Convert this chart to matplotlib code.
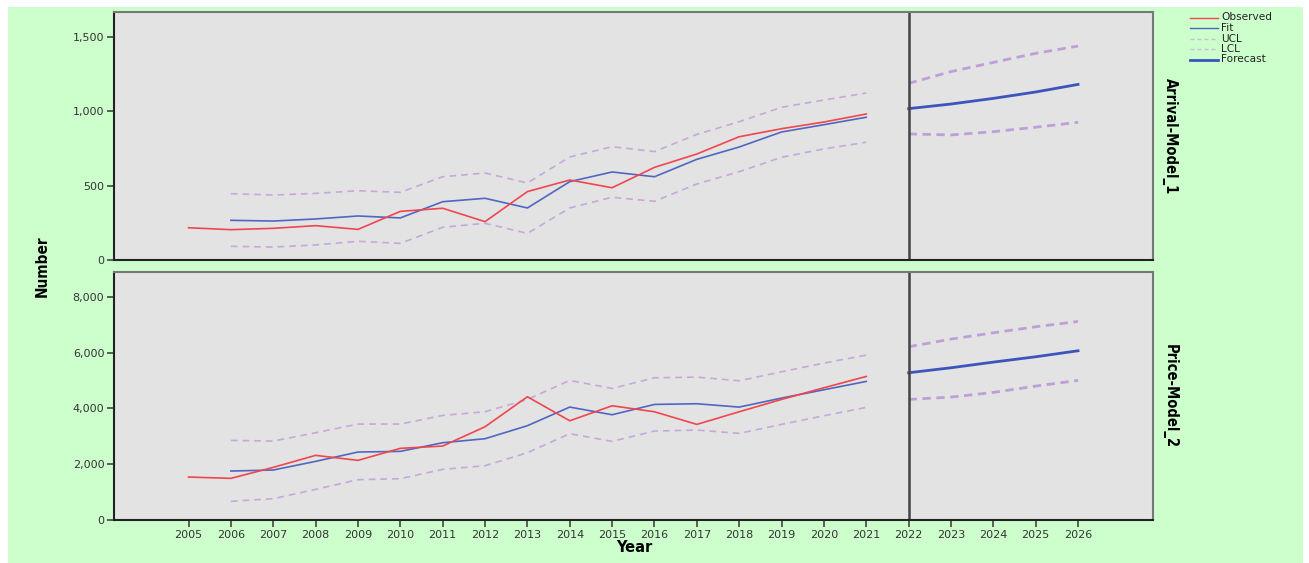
import matplotlib
matplotlib.use("Agg")
import matplotlib.pyplot as plt
from matplotlib.patches import Rectangle
from matplotlib.lines import Line2D
from matplotlib.ticker import FuncFormatter

years_obs = list(range(2005, 2022))
years_fit = list(range(2006, 2022))
years_fc = list(range(2022, 2027))

arr_obs = [217, 204, 213, 231, 206, 327, 348, 258, 460, 538, 486, 623, 713, 829, 883, 928, 982]
arr_fit = [267, 262, 276, 296, 283, 392, 415, 350, 527, 592, 560, 677, 760, 861, 910, 960]
arr_ucl = [446, 437, 448, 466, 455, 560, 585, 518, 693, 762, 729, 845, 930, 1027, 1076, 1123]
arr_lcl = [92, 87, 101, 126, 112, 220, 247, 179, 350, 422, 395, 511, 594, 691, 747, 792]
arr_fc = [1018, 1049, 1087, 1130, 1181]
arr_fc_ucl = [1188, 1267, 1329, 1390, 1439]
arr_fc_lcl = [848, 841, 863, 893, 926]

pr_obs = [1540, 1493, 1887, 2317, 2138, 2568, 2651, 3343, 4418, 3557, 4095, 3880, 3427, 3880, 4322, 4740, 5146]
pr_fit = [1755, 1791, 2102, 2436, 2460, 2770, 2914, 3380, 4048, 3773, 4143, 4167, 4048, 4370, 4669, 4967]
pr_ucl = [2853, 2830, 3128, 3439, 3439, 3749, 3880, 4322, 5003, 4716, 5098, 5122, 4991, 5313, 5624, 5910]
pr_lcl = [669, 764, 1098, 1445, 1481, 1815, 1946, 2412, 3093, 2818, 3188, 3224, 3105, 3427, 3737, 4036]
pr_fc = [5278, 5457, 5660, 5851, 6066]
pr_fc_ucl = [6209, 6484, 6711, 6926, 7117]
pr_fc_lcl = [4322, 4405, 4573, 4800, 5003]

x_ticks = list(range(2005, 2027))
top_ticks = [0, 500, 1000, 1500]
bot_ticks = [0, 2000, 4000, 6000, 8000]
panel_labels = ["Arrival-Model_1", "Price-Model_2"]
legend_labels = ["Observed", "Fit", "UCL", "LCL", "Forecast"]

W, H = 1309, 563
fig = plt.figure(figsize=(W / 100, H / 100), dpi=100)
fig.patch.set_facecolor("white")
fig.patches.append(Rectangle((8 / W, 0), (1303 - 8) / W, 1 - 7 / H,
                             transform=fig.transFigure, facecolor="#ccffcc",
                             edgecolor="none", zorder=-10))

c_obs = "#f0464e"
c_fit = "#5066c2"
c_ci = "#c6a8da"
c_fc = "#3c55bc"
c_fcci = "#bf9fd8"
c_edge = "#444444"


def px_axes(l, t, r, b):
    return fig.add_axes([l / W, 1 - b / H, (r - l) / W, (b - t) / H])


def make_panel(ax, obs, fit, ucl, lcl, fc, fcu, fcl, ymax, ticks, label):
    ax.set_facecolor("#e3e3e3")
    ax.plot(years_fit, ucl, color=c_ci, lw=1.2, ls=(0, (4, 3)))
    ax.plot(years_fit, lcl, color=c_ci, lw=1.2, ls=(0, (4, 3)))
    ax.plot(years_fit, fit, color=c_fit, lw=1.2)
    ax.plot(years_obs, obs, color=c_obs, lw=1.2)
    ax.plot(years_fc, fcu, color=c_fcci, lw=2.0, ls=(0, (3, 2)))
    ax.plot(years_fc, fcl, color=c_fcci, lw=2.0, ls=(0, (3, 2)))
    ax.plot(years_fc, fc, color=c_fc, lw=2.0)
    ax.axvline(2022, color=c_edge, lw=1.8)
    ax.set_xlim(2003.24, 2027.77)
    ax.set_ylim(0, ymax)
    ax.set_yticks(ticks)
    ax.yaxis.set_major_formatter(FuncFormatter(lambda v, p: f"{int(v):,}"))
    ax.tick_params(axis="y", direction="out", length=5, width=1.2,
                   colors=c_edge, labelcolor="#333333", labelsize=8, pad=2)
    for s in ["left", "bottom"]:
        ax.spines[s].set_color("#222222")
        ax.spines[s].set_linewidth(1.5)
    for s in ["top", "right"]:
        ax.spines[s].set_color("#777777")
        ax.spines[s].set_linewidth(1.5)
    pos = ax.get_position()
    fig.text(1170 / W, pos.y0 + pos.height / 2, label, rotation=270,
             ha="center", va="center", fontsize=10.5, fontweight="bold",
             fontstretch="condensed", family="DejaVu Sans")


ax1 = px_axes(114, 12, 1153, 260)
make_panel(ax1, arr_obs, arr_fit, arr_ucl, arr_lcl, arr_fc, arr_fc_ucl,
           arr_fc_lcl, 1668, top_ticks, panel_labels[0])
ax1.set_xticks([])

ax2 = px_axes(114, 272, 1153, 520)
make_panel(ax2, pr_obs, pr_fit, pr_ucl, pr_lcl, pr_fc, pr_fc_ucl,
           pr_fc_lcl, 8890, bot_ticks, panel_labels[1])
ax2.set_xticks(x_ticks)
ax2.set_xticklabels([str(y) for y in x_ticks])
ax2.tick_params(axis="x", direction="out", length=5, width=1.2,
                colors=c_edge, labelcolor="#333333", labelsize=8, pad=2)

fig.text(42 / W, 1 - 266 / H, "Number", rotation=90, ha="center",
         va="center", fontsize=11, fontweight="bold",
         fontstretch="condensed", family="DejaVu Sans")
fig.text(634 / W, 1 - 548 / H, "Year", ha="center", va="center",
         fontsize=10.5, fontweight="bold")

# legend drawn manually (compact SPSS-style rows)
leg_styles = [dict(color=c_obs, lw=1.0),
              dict(color=c_fit, lw=1.0),
              dict(color="#c8c0d0", lw=1.0, ls=(0, (3, 2))),
              dict(color="#c8c0d0", lw=1.0, ls=(0, (3, 2))),
              dict(color=c_fc, lw=2.0)]
row_y = [17.5, 28, 38.5, 49, 59.5]
for lab, st, yy in zip(legend_labels, leg_styles, row_y):
    fy = 1 - yy / H
    fig.add_artist(Line2D([1190 / W, 1218 / W], [fy, fy],
                          transform=fig.transFigure, **st))
    fig.text(1221 / W, fy, lab, ha="left", va="center", fontsize=7.6,
             color="#222222")

fig.savefig("out.png", dpi=100)
